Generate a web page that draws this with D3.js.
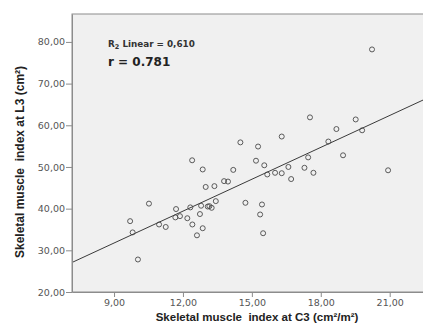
<!DOCTYPE html>
<html>
<head>
<meta charset="utf-8">
<script src="https://cdn.jsdelivr.net/npm/d3@7/dist/d3.min.js"></script>
<style>
  body { margin: 0; background: #fff; }
  svg text { white-space: pre; }
</style>
</head>
<body>
<svg id="chart"></svg>
<script>
// C3 index (x) vs L3 index (y)
const c3 = [20.23, 17.53, 19.52, 18.68, 19.80, 16.30, 18.33, 14.50, 15.27, 12.40,
  15.18, 15.54, 17.45, 18.97, 12.86, 14.19, 20.93, 16.59, 17.29, 17.68,
  15.67, 16.01, 16.30, 16.71, 13.79, 13.96, 12.99, 13.37, 10.52, 13.43,
  14.72, 15.44, 11.70, 12.32, 12.79, 13.08, 13.15, 13.25, 9.70, 11.67,
  11.87, 12.19, 12.74, 15.36, 10.96, 11.25, 12.41, 12.86, 9.81, 12.61,
  15.49, 10.04];
const l3 = [78.2, 61.9, 61.4, 59.1, 58.8, 57.3, 56.1, 55.9, 54.9, 51.6,
  51.5, 50.4, 52.3, 52.8, 49.4, 49.3, 49.2, 50.0, 49.8, 48.6,
  48.2, 48.6, 48.5, 47.1, 46.6, 46.5, 45.2, 45.4, 41.2, 41.8,
  41.4, 41.0, 39.9, 40.3, 40.7, 40.5, 40.6, 40.2, 37.0, 37.9,
  38.2, 37.7, 38.7, 38.6, 36.2, 35.6, 36.2, 35.3, 34.3, 33.6,
  34.1, 27.8];
const xTicks = [9, 12, 15, 18, 21];
const yTicks = [20, 30, 40, 50, 60, 70, 80];
const fit = { intercept: 8.8, slope: 2.55 };
const r2Label = "0,610";
const rLabel = "0.781";

const width = 423, height = 326;
const m = { left: 72, top: 14, right: 0, bottom: 34 };
const svg = d3.select('#chart').attr('width', width).attr('height', height);

const x = d3.scaleLinear().domain([7.17, 22.45]).range([m.left, width - m.right]);
const y = d3.scaleLinear().domain([20, 86.7]).range([height - m.bottom, m.top]);

const fmt = d => d.toFixed(2).replace('.', ',');

svg.append('defs').append('clipPath').attr('id', 'clip')
  .append('rect').attr('x', m.left).attr('y', m.top)
  .attr('width', width - m.left - m.right).attr('height', height - m.top - m.bottom);

svg.append('rect')
  .attr('x', m.left).attr('y', m.top)
  .attr('width', width - m.left - m.right + 2).attr('height', height - m.top - m.bottom)
  .attr('fill', '#f0f0f0').attr('stroke', '#8c8c8c').attr('stroke-width', 1);

const plot = svg.append('g').attr('clip-path', 'url(#clip)');

plot.append('line')
  .attr('x1', x(7.17)).attr('y1', y(fit.intercept + fit.slope * 7.17))
  .attr('x2', x(22.45)).attr('y2', y(fit.intercept + fit.slope * 22.45))
  .attr('stroke', '#3a3a3a').attr('stroke-width', 1);

plot.selectAll('circle')
  .data(d3.zip(c3, l3))
  .enter()
  .append('circle')
  .attr('cx', d => x(d[0]))
  .attr('cy', d => y(d[1]))
  .attr('r', 2.5)
  .attr('fill', 'none')
  .attr('stroke', '#4a4a4a')
  .attr('stroke-width', 0.9);

const xAxis = svg.append('g')
  .attr('transform', `translate(0, ${height - m.bottom})`)
  .call(d3.axisBottom(x).tickValues(xTicks).tickFormat(fmt).tickSize(5).tickSizeOuter(0));
const yAxis = svg.append('g')
  .attr('transform', `translate(${m.left}, 0)`)
  .call(d3.axisLeft(y).tickValues(yTicks).tickFormat(fmt).tickSize(6).tickSizeOuter(0));

[xAxis, yAxis].forEach(a => {
  a.select('.domain').attr('stroke', '#8c8c8c');
  a.selectAll('.tick line').attr('stroke', '#8c8c8c');
  a.selectAll('.tick text')
    .attr('fill', '#555')
    .style('font-family', 'DejaVu Sans, Verdana, sans-serif')
    .style('font-size', '9.5px');
});
xAxis.selectAll('.tick text').attr('y', 14).attr('dy', 0);
yAxis.selectAll('.tick text').attr('x', -7);

svg.append('text')
  .attr('x', 257).attr('y', 321)
  .attr('text-anchor', 'middle')
  .style('font-family', 'Liberation Sans, Arial, sans-serif')
  .style('font-weight', 'bold').style('font-size', '11.5px')
  .attr('fill', '#222')
  .text('Skeletal muscle  index at C3 (cm²/m²)');

svg.append('text')
  .attr('transform', 'translate(24, 162) rotate(-90)')
  .attr('text-anchor', 'middle')
  .style('font-family', 'Liberation Sans, Arial, sans-serif')
  .style('font-weight', 'bold').style('font-size', '12px')
  .attr('fill', '#222')
  .text('Skeletal muscle  index at L3 (cm²)');

const ann = svg.append('text')
  .attr('x', 108).attr('y', 47)
  .style('font-family', 'DejaVu Sans, Verdana, sans-serif')
  .style('font-weight', 'bold').style('font-size', '8.8px')
  .attr('fill', '#333');
ann.append('tspan').text('R');
ann.append('tspan').attr('dy', 2).style('font-size', '6.5px').text('2');
ann.append('tspan').attr('dy', -2).text(' Linear = ' + r2Label);

svg.append('text')
  .attr('x', 108).attr('y', 66)
  .style('font-family', 'DejaVu Sans, Verdana, sans-serif')
  .style('font-weight', 'bold').style('font-size', '12px')
  .attr('fill', '#222')
  .text('r = ' + rLabel);
</script>
</body>
</html>
